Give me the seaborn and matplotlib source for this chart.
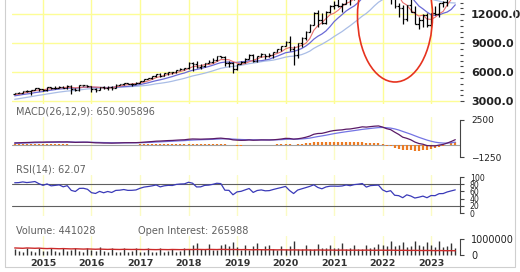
import numpy as np
import pandas as pd
import matplotlib
matplotlib.use("Agg")
import matplotlib.pyplot as plt
import matplotlib.ticker as mticker
from matplotlib.patches import Ellipse, Rectangle
import seaborn as sns

# ---------------- data (monthly, Jun 2014 .. Jul 2023) ----------------
start_month = "2014-06"
end_month = "2023-07"

warmup_close = [2640, 2770, 2800, 2660, 2680, 2660, 2730, 2740, 2820, 2860, 2990, 2910,
                3090, 3050, 3220, 3380, 3500, 3590, 3500, 3690, 3600, 3580, 3740]

open_ = [3740, 3850, 3890, 4080, 4050, 4160, 4340,
         4236, 4150, 4440, 4330, 4415, 4510, 4400, 4600, 4270, 4180, 4650, 4670,
         4590, 4280, 4200, 4480, 4340, 4520, 4420, 4730, 4770, 4875, 4800, 4810,
         4860, 5110, 5330, 5440, 5580, 5790, 5650, 5880, 5990, 5980, 6250, 6360,
         6400, 6950, 6880, 6580, 6600, 6970, 7040, 7270, 7660, 7630, 6970, 6950,
         6330, 6900, 7030, 7380, 7780, 7130, 7670, 7850, 7690, 7750, 8080, 8400,
         8730, 9150, 8460, 7810, 9000, 9550, 10160, 10900, 12110, 11420, 11050, 12270,
         12890, 12930, 12900, 13090, 13860, 13690, 14550, 14960, 15580, 14690, 15850, 16140,
         16320, 14930, 14240, 14840, 12850, 12640, 11500, 12950, 12270, 10970, 11400, 11950,
         10940, 12100, 12040, 13180, 13250, 14250, 14980]
high = [3860, 3990, 4090, 4120, 4170, 4350, 4370,
        4290, 4450, 4490, 4560, 4550, 4550, 4690, 4700, 4390, 4680, 4720, 4720,
        4590, 4330, 4500, 4570, 4540, 4560, 4740, 4810, 4890, 4900, 4880, 4970,
        5130, 5340, 5460, 5600, 5830, 5900, 5960, 6000, 6030, 6270, 6420, 6480,
        7020, 7050, 7190, 6810, 7000, 7280, 7460, 7680, 7700, 7690, 7150, 7040,
        6900, 7140, 7470, 7850, 7850, 7720, 8030, 7940, 7950, 8100, 8400, 8740,
        9270, 9720, 8760, 9050, 9600, 10300, 10950, 12250, 12470, 12160, 12320, 12950,
        13390, 13880, 13220, 14070, 13910, 14570, 15100, 15620, 15700, 15890, 16760, 16660,
        16570, 15260, 15270, 15130, 13190, 13010, 12990, 13720, 12810, 11680, 12040, 12170,
        12170, 12880, 13210, 13340, 14340, 15290, 15930]
low = [3710, 3830, 3850, 3990, 3700, 4150, 4090,
       4080, 4110, 4290, 4280, 4370, 4390, 4300, 3790, 4080, 4110, 4560, 4490,
       4000, 3950, 4190, 4300, 4220, 4200, 4390, 4700, 4680, 4770, 4590, 4780,
       4850, 5100, 5290, 5330, 5560, 5530, 5610, 5770, 5860, 5970, 6200, 6260,
       6390, 6160, 6440, 6310, 6570, 6930, 6990, 7170, 7450, 6620, 6560, 5900,
       6200, 6820, 6980, 7360, 7090, 7060, 7630, 7420, 7580, 7520, 8060, 8160,
       8700, 8240, 6770, 7520, 8660, 9330, 10130, 10890, 10680, 10960, 11040, 12130,
       12530, 12760, 12210, 13040, 12970, 13460, 14390, 14880, 14640, 14400, 15800, 15620,
       13720, 13640, 13020, 12690, 11680, 11040, 11310, 12210, 10960, 10440, 10690, 10670,
       10700, 11940, 11700, 12720, 12900, 14180, 14900]
close = [3850, 3890, 4080, 4050, 4160, 4340, 4236,
         4150, 4440, 4330, 4415, 4510, 4400, 4600, 4270, 4180, 4650, 4670, 4590,
         4280, 4200, 4480, 4340, 4520, 4420, 4730, 4770, 4875, 4800, 4810, 4860,
         5110, 5330, 5440, 5580, 5790, 5650, 5880, 5990, 5980, 6250, 6360, 6400,
         6950, 6880, 6580, 6600, 6970, 7040, 7270, 7660, 7630, 6970, 6950, 6330,
         6900, 7030, 7380, 7780, 7130, 7670, 7850, 7690, 7750, 8080, 8400, 8730,
         9150, 8460, 7810, 9000, 9550, 10160, 10900, 12110, 11420, 11050, 12270, 12890,
         12930, 12900, 13090, 13860, 13690, 14550, 14960, 15580, 14690, 15850, 16140, 16320,
         14930, 14240, 14840, 12850, 12640, 11500, 12950, 12270, 10970, 11400, 11950, 10940,
         12100, 12040, 13180, 13250, 14250, 14980, 15750]

volume = [380, 220, 200, 420, 260, 200, 430,
          250, 230, 450, 230, 210, 440, 240, 330, 460, 250, 210, 430,
          300, 280, 470, 220, 200, 450, 210, 190, 420, 210, 240, 430,
          200, 190, 410, 200, 210, 420, 190, 220, 400, 200, 230, 430,
          350, 600, 750, 380, 360, 700, 320, 300, 620, 680, 550, 800,
          500, 320, 640, 300, 560, 720, 380, 560, 600, 380, 320, 560,
          380, 560, 900, 400, 350, 620, 380, 380, 700, 450, 420, 600,
          420, 450, 720, 380, 420, 620, 400, 380, 650, 450, 480, 700,
          620, 580, 850, 560, 650, 820, 520, 560, 900, 600, 560, 820,
          600, 520, 850, 480, 560, 780, 441]
open_interest = [440, 430, 420, 440, 430, 420, 430,
                 410, 400, 410, 400, 390, 400, 390, 380, 390, 380, 370, 380,
                 370, 360, 370, 360, 350, 360, 350, 345, 355, 350, 345, 350,
                 345, 340, 350, 340, 335, 345, 340, 335, 345, 340, 335, 340,
                 345, 340, 350, 345, 340, 350, 345, 340, 350, 345, 340, 345,
                 340, 335, 340, 330, 325, 335, 330, 325, 330, 325, 320, 325,
                 320, 315, 320, 315, 310, 315, 310, 305, 315, 310, 305, 310,
                 305, 300, 310, 305, 300, 305, 300, 300, 305, 300, 295, 300,
                 300, 295, 300, 295, 290, 295, 290, 285, 290, 285, 280, 285,
                 280, 275, 280, 275, 270, 272, 266]
volume = [v * 1000 for v in volume]
open_interest = [v * 1000 for v in open_interest]

year_labels = ["2015", "2016", "2017", "2018", "2019", "2020", "2021", "2022", "2023"]
price_ticks = [3000, 6000, 9000, 12000]
price_grid = [3000, 6000, 9000, 12000, 15000, 18000]
macd_ticks = [2500, -1250]
rsi_ticks = [0, 20, 40, 60, 80, 100]
vol_ticks = [0, 1000000]
macd_title = "MACD(26,12,9): 650.905896"
rsi_title = "RSI(14): 62.07"
vol_title = "Volume: 441028"
oi_title = "Open Interest: 265988"

# ---------------- indicators ----------------
months = pd.period_range(start_month, end_month, freq="M")
n = len(months)
x = np.arange(n)
allc = pd.Series(warmup_close + close, dtype=float)
nw = len(warmup_close)
ma5 = allc.rolling(5).mean().iloc[nw:].to_numpy()
ma10 = allc.rolling(10).mean().iloc[nw:].to_numpy()
ma20 = allc.rolling(20, min_periods=1).mean().iloc[nw:].to_numpy()
ema12 = allc.ewm(span=12, adjust=True).mean()
ema26 = allc.ewm(span=26, adjust=True).mean()
macd_all = ema12 - ema26
sig_all = macd_all.ewm(span=9, adjust=True).mean()
macd = macd_all.iloc[nw:].to_numpy()
sig = sig_all.iloc[nw:].to_numpy()
hist = macd - sig
d = allc.diff()
g = d.clip(lower=0).ewm(alpha=1 / 14, adjust=False).mean()
l_ = (-d.clip(upper=0)).ewm(alpha=1 / 14, adjust=False).mean()
rsi = (100 - 100 / (1 + g / l_)).iloc[nw:].to_numpy()

jan_idx = [i for i, m in enumerate(months) if m.month == 1]

# ---------------- layout helpers ----------------
W, H = 520, 272
sns.set_theme(style="white")
plt.rcParams["font.family"] = ["DejaVu Sans"]
fig = plt.figure(figsize=(W / 100, H / 100), dpi=100)
fig.patch.set_facecolor("white")


def rect(x0, y0, x1, y1):
    return [x0 / W, 1 - y1 / H, (x1 - x0) / W, (y1 - y0) / H]


def px(xp, yp):
    return xp / W, 1 - yp / H


X0, X1 = 12, 460
xlim = ((X0 - 14.7) / 4.042, (X1 - 14.7) / 4.042)
GRID_Y = "#fdfd96"
GRID_Y2 = "#fbfbc4"


def base(ax, ylim, gridc):
    ax.set_xlim(*xlim)
    ax.set_ylim(*ylim)
    ax.set_facecolor("none")
    for s in ax.spines.values():
        s.set_visible(False)
    for j in jan_idx:
        ax.axvline(j, color=gridc, lw=1.0, zorder=0)
    ax.set_xticks([])
    ax.yaxis.tick_right()
    ax.tick_params(axis="y", which="both", direction="out", length=3,
                   width=0.8, color="#444444", pad=5, labelcolor="#222222")


def right_spine(ax, lo, hi):
    sp = ax.spines["right"]
    sp.set_visible(True)
    sp.set_bounds(lo, hi)
    sp.set_color("#444444")
    sp.set_linewidth(0.8)


# ---------------- price panel ----------------
axp = fig.add_axes(rect(X0, -60, X1, 104))
base(axp, (2720, 19686), GRID_Y)
for t in price_grid:
    axp.axhline(t, color=GRID_Y, lw=1.0, zorder=0)
axp.vlines(x, low, high, color="black", lw=0.9, zorder=3)
axp.hlines(open_, x - 0.42, x, color="black", lw=0.9, zorder=3)
axp.hlines(close, x, x + 0.42, color="black", lw=0.9, zorder=3)
sns.lineplot(x=x, y=ma20, ax=axp, color="#a9bde6", lw=0.9, zorder=2)
sns.lineplot(x=x, y=ma10, ax=axp, color="#6a6ad6", lw=0.9, zorder=2)
sns.lineplot(x=x, y=ma5, ax=axp, color="#e87070", lw=0.8, zorder=2)
axp.set_yticks(price_ticks)
axp.yaxis.set_major_formatter(mticker.FormatStrFormatter("%.1f"))
axp.yaxis.set_minor_locator(mticker.FixedLocator(
    [v for v in range(2400, 13800, 600) if v % 3000 != 0]))
axp.tick_params(axis="y", which="minor", length=2)
for lab in axp.get_yticklabels():
    lab.set_fontsize(8)
    lab.set_fontweight("bold")
axp.add_patch(Ellipse(((395 - 14.7) / 4.042, 11824), 75 / 4.042, 13655,
                      fill=False, edgecolor="#e6331f", lw=1.2, zorder=5))
axp.set_ylabel("")

# ---------------- MACD panel ----------------
axm = fig.add_axes(rect(X0, 117, X1, 160))
base(axm, (-1554, 2804), GRID_Y2)
axm.axhline(0, color="#a0a0a0", lw=0.8, zorder=1)
axm.vlines(x, 0, hist, color="#ec7a22", lw=1.6, zorder=2)
sns.lineplot(x=x, y=sig, ax=axm, color="#7474e4", lw=0.9, zorder=3)
sns.lineplot(x=x, y=macd, ax=axm, color="#5a1a66", lw=0.9, zorder=4)
axm.set_yticks(macd_ticks)
right_spine(axm, -1250, 2500)
axm.tick_params(axis="y", labelsize=6.5)
axm.set_ylabel("")

# ---------------- RSI panel ----------------
axr = fig.add_axes(rect(X0, 175, X1, 216))
base(axr, (-8.3, 105.6), GRID_Y2)
axr.axhline(80, color="#606060", lw=0.8, zorder=1)
axr.axhline(20, color="#606060", lw=0.8, zorder=1)
sns.lineplot(x=x, y=rsi, ax=axr, color="#3a3ab8", lw=0.9, zorder=3)
axr.set_yticks(rsi_ticks)
right_spine(axr, 0, 100)
axr.tick_params(axis="y", labelsize=5.6, pad=4)
axr.set_ylabel("")

# ---------------- volume panel ----------------
axv = fig.add_axes(rect(X0, 236, X1, 257))
base(axv, (-125000, 1187500), GRID_Y2)
axv.vlines(x, 0, volume, color="#333333", lw=1.0, zorder=2)
sns.lineplot(x=x, y=open_interest, ax=axv, color="#cc2a2a", lw=1.0, zorder=3)
axv.set_yticks(vol_ticks)
axv.yaxis.set_major_formatter(mticker.FormatStrFormatter("%d"))
right_spine(axv, 0, 1000000)
axv.tick_params(axis="y", labelsize=7)
axv.set_ylabel("")

# ---------------- texts ----------------
tc = "#606060"
fig.text(*px(16, 112), macd_title, fontsize=7, color=tc, va="center", ha="left")
fig.text(*px(16, 169), rsi_title, fontsize=7, color=tc, va="center", ha="left")
fig.text(*px(16, 231), vol_title, fontsize=7, color=tc, va="center", ha="left")
fig.text(*px(138, 231), oi_title, fontsize=7, color=tc, va="center", ha="left")
for j, lab in zip(jan_idx, year_labels):
    xp = 14.7 + j * 4.042
    fig.text(*px(xp, 263), lab, fontsize=6.8, color="#333333", fontweight="bold",
             ha="center", va="center")

# border
fig.add_artist(Rectangle(px(5, 267), 510 / W, 280 / H, transform=fig.transFigure,
                         fill=False, edgecolor="#cfcfcf", lw=0.8))

fig.savefig("out.png", dpi=100, facecolor="white")
